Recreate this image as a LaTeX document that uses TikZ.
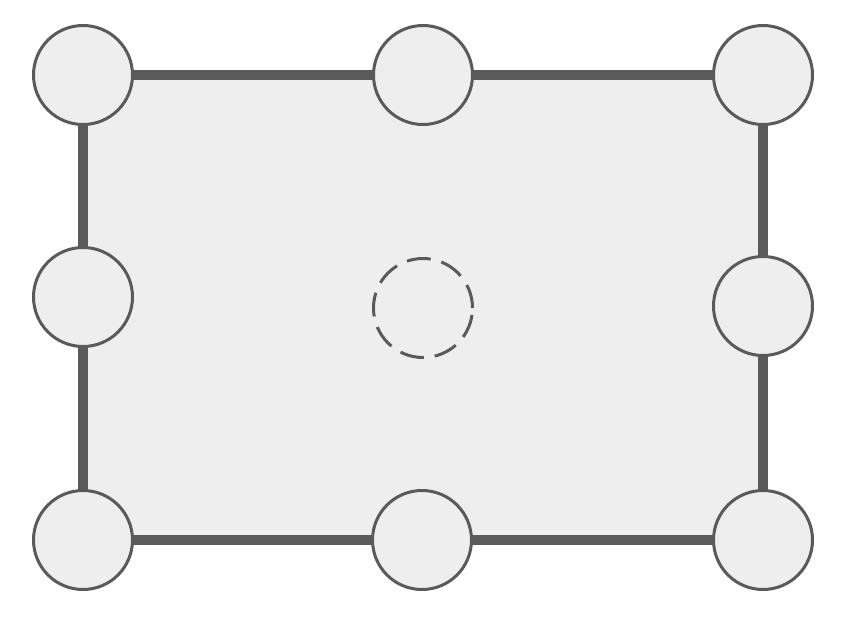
\documentclass[tikz,border=0pt]{standalone}
\usetikzlibrary{positioning}

\definecolor{rim}{HTML}{5A5A5A}
\definecolor{pane}{HTML}{EEEEEE}

\tikzset{
  handle/.style = {circle, draw = rim, fill = pane, line width = 3pt,
                   minimum size = 99pt, inner sep = 0pt},
  pivot/.style  = {handle, dash pattern = on 24pt off 11pt},
  side/.style   = {draw = rim, line width = 9.5pt}
}

\begin{document}
\begin{tikzpicture}[x = 1pt, y = -1pt]
  \useasboundingbox (0, 0) rectangle (855, 622);
  \fill[pane] (83, 75) rectangle (763, 540);
  \node[handle] (tl) at (83, 75)   {};
  \node[handle] (tm) at (423, 75)  {};
  \node[handle] (tr) at (763, 75)  {};
  \node[handle] (ml) at (83, 297)  {};
  \node[pivot]  (c)  at (423, 308) {};
  \node[handle] (mr) at (763, 306) {};
  \node[handle] (bl) at (83, 540)  {};
  \node[handle] (bm) at (422, 540) {};
  \node[handle] (br) at (763, 540) {};
  \path[side]
    (tl) edge (tm)
    (tm) edge (tr)
    (tr) edge (mr)
    (mr) edge (br)
    (br) edge (bm)
    (bm) edge (bl)
    (bl) edge (ml)
    (ml) edge (tl);
\end{tikzpicture}
\end{document}
